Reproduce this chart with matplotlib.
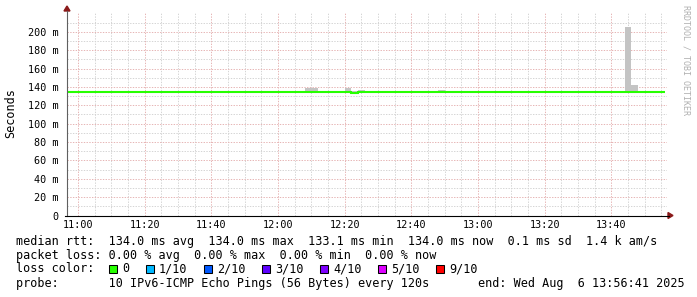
import matplotlib
matplotlib.use('Agg')
import matplotlib.pyplot as plt
from matplotlib.patches import Rectangle, Polygon

# ---------------- data ----------------
# step start times, minutes relative to 11:00 (120 s steps)
step_start = list(range(-4, 176, 2))
step_edges = list(range(-4, 178, 2))

median_rtt_ms = [
    134.0, 134.0, 134.0, 134.0, 134.0, 134.0, 134.0, 134.0, 134.0, 134.0,
    134.0, 134.0, 134.0, 134.0, 134.0, 134.0, 134.0, 134.0, 134.0, 134.0,
    134.0, 134.0, 134.0, 134.0, 134.0, 134.0, 134.0, 134.0, 134.0, 134.0,
    134.0, 134.0, 134.0, 134.0, 134.0, 134.0, 134.0, 134.0, 134.0, 134.0,
    134.0, 134.0, 134.0, 133.1, 134.0, 134.0, 134.0, 134.0, 134.0, 134.0,
    134.0, 134.0, 134.0, 134.0, 134.0, 134.0, 134.0, 134.0, 134.0, 134.0,
    134.0, 134.0, 134.0, 134.0, 134.0, 134.0, 134.0, 134.0, 134.0, 134.0,
    134.0, 134.0, 134.0, 134.0, 134.0, 134.0, 134.0, 134.0, 134.0, 134.0,
    134.0, 134.0, 134.0, 134.0, 134.0, 134.0, 134.0, 134.0, 134.0, 134.0,
]

smoke_max_ms = [
    134.0, 134.0, 134.0, 134.0, 134.0, 134.0, 134.0, 134.0, 134.0, 134.0,
    134.0, 134.0, 134.0, 134.0, 134.0, 134.0, 134.0, 134.0, 134.0, 134.0,
    134.0, 134.0, 134.0, 134.0, 134.0, 134.0, 134.0, 134.0, 134.0, 134.0,
    134.0, 134.0, 134.0, 134.0, 134.0, 134.0, 138.5, 138.5, 134.0, 134.0,
    134.0, 134.0, 138.8, 136.0, 137.0, 134.0, 134.0, 134.0, 134.0, 134.0,
    134.0, 134.0, 134.0, 134.0, 134.0, 134.0, 137.0, 134.0, 134.0, 134.0,
    134.0, 134.0, 134.0, 134.0, 134.0, 134.0, 134.0, 134.0, 134.0, 134.0,
    134.0, 134.0, 134.0, 134.0, 134.0, 134.0, 134.0, 134.0, 134.0, 134.0,
    134.0, 134.0, 134.0, 134.0, 205.0, 142.0, 134.0, 134.0, 134.0, 134.0,
]

x_tick_pos = [0, 20, 40, 60, 80, 100, 120, 140, 160]
x_tick_labels = ["11:00", "11:20", "11:40", "12:00", "12:20", "12:40", "13:00", "13:20", "13:40"]
y_tick_pos = [0, 20, 40, 60, 80, 100, 120, 140, 160, 180, 200]
y_tick_labels = ["0", "20 m", "40 m", "60 m", "80 m", "100 m", "120 m", "140 m", "160 m", "180 m", "200 m"]

legend_rtt = "median rtt:  134.0 ms avg  134.0 ms max  133.1 ms min  134.0 ms now  0.1 ms sd  1.4 k am/s"
legend_loss = "packet loss: 0.00 % avg  0.00 % max  0.00 % min  0.00 % now"
legend_color_title = "loss color:"
loss_labels = ["0", "1/10", "2/10", "3/10", "4/10", "5/10", "9/10"]
loss_colors = ["#26ff00", "#00b8ff", "#0059ff", "#5e00ff", "#7e00ff", "#dd00ff", "#ff0000"]
legend_probe = "probe:       10 IPv6-ICMP Echo Pings (56 Bytes) every 120s"
legend_end = "end: Wed Aug  6 13:56:41 2025"
watermark = "RRDTOOL / TOBI OETIKER"

# ---------------- figure ----------------
W, H = 697, 297
plt.rcParams['font.family'] = ['DejaVu Sans Mono']
fig = plt.figure(figsize=(W / 100, H / 100), dpi=100)
fig.patch.set_facecolor('white')

L, R, T, B = 67, 667, 13, 215.5
ax = fig.add_axes([L / W, 1 - B / H, (R - L) / W, (B - T) / H])
ax.set_facecolor('white')
ax.set_xlim(-3.317, 176.683)
ax.set_ylim(0, 220.5)

# grid
minor_c = '#d4d4d4'
major_c = '#e6b4b4'
dots = (0, (1.4, 1.4))
glw = 0.7
for m in range(0, 177, 5):
    if m % 20:
        ax.axvline(m, color=minor_c, lw=glw, ls=dots, zorder=0)
for m in x_tick_pos:
    ax.axvline(m, color=major_c, lw=glw, ls=dots, zorder=0.5)
for v in range(10, 221, 20):
    ax.axhline(v, color=minor_c, lw=glw, ls=dots, zorder=0)
for v in y_tick_pos[1:]:
    ax.axhline(v, color=major_c, lw=glw, ls=dots, zorder=0.5)

# smoke
ax.stairs(smoke_max_ms, step_edges, baseline=median_rtt_ms, fill=True,
          color='#c4c4c4', lw=0, zorder=2)
# median line
ax.stairs(median_rtt_ms, step_edges, baseline=None, color=loss_colors[0], lw=1.5, zorder=3)

for s in ax.spines.values():
    s.set_visible(False)

ax.set_xticks(x_tick_pos)
ax.set_xticklabels(x_tick_labels, fontsize=7.3)
ax.set_yticks(y_tick_pos)
ax.set_yticklabels(y_tick_labels, fontsize=7.3)
ax.tick_params(axis='x', length=0, pad=3)
ax.tick_params(axis='y', length=0, pad=6)

# axes lines and arrows (pixel coordinates)
def fx(x):
    return x / W

def fy(y):
    return 1 - y / H

fig.add_artist(plt.Line2D([fx(L), fx(L)], [fy(B), fy(T - 2)], color='#606060', lw=0.8))
fig.add_artist(plt.Line2D([fx(L - 2), fx(R + 2)], [fy(B), fy(B)], color='black', lw=0.8))
arrow_c = '#8b1a1a'
fig.add_artist(Polygon([[fx(L - 3), fy(T - 2)], [fx(L + 3), fy(T - 2)], [fx(L), fy(T - 7)]],
                       closed=True, color=arrow_c, transform=fig.transFigure))
fig.add_artist(Polygon([[fx(R + 1), fy(B - 3)], [fx(R + 1), fy(B + 3)], [fx(R + 6), fy(B)]],
                       closed=True, color=arrow_c, transform=fig.transFigure))

# y label
fig.text(fx(11), fy(113), "Seconds", rotation=90, ha='center', va='center', fontsize=8.5)
# watermark
fig.text(fx(686), fy(5), watermark, rotation=-90, ha='center', va='top', fontsize=6, color='#b0b0b0')

# legend
fs = 8.5
x0 = 16
fig.text(fx(x0), fy(241), legend_rtt, ha='left', va='center', fontsize=fs)
fig.text(fx(x0), fy(255), legend_loss, ha='left', va='center', fontsize=fs)
fig.text(fx(x0), fy(269), legend_color_title, ha='left', va='center', fontsize=fs)
bx = 109
for lab, col in zip(loss_labels, loss_colors):
    fig.add_artist(Rectangle((fx(bx), fy(273)), 8 / W, 8 / H, facecolor=col,
                             edgecolor='black', lw=0.75, transform=fig.transFigure))
    fig.text(fx(bx + 13), fy(269), lab, ha='left', va='center', fontsize=fs)
    bx += 30 + 7.0 * len(lab)
fig.text(fx(x0), fy(283), legend_probe, ha='left', va='center', fontsize=fs)
fig.text(fx(478), fy(283), legend_end, ha='left', va='center', fontsize=fs)

fig.savefig('out.png', dpi=100, facecolor='white')
